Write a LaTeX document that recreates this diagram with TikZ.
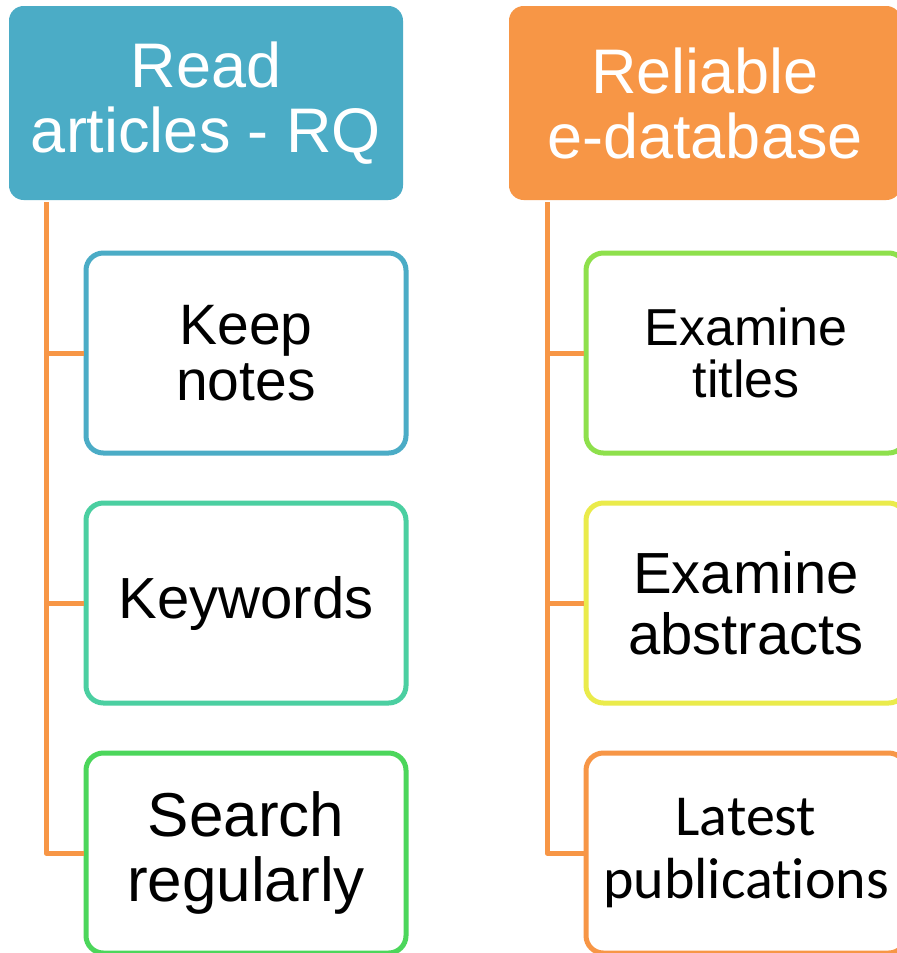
\documentclass[tikz,border=0pt]{standalone}
\usepackage{fontspec}
\setmainfont{Liberation Sans}
\newfontfamily\calibri{Carlito}
\definecolor{hblue}{HTML}{4BACC6}
\definecolor{horange}{HTML}{F79646}
\definecolor{cteal}{HTML}{4BCFA1}
\definecolor{cgreen}{HTML}{4CD65B}
\definecolor{clime}{HTML}{8EE04C}
\definecolor{cyellow}{HTML}{EAEB4B}
\tikzset{
  hdrbox/.style={rounded corners=11pt, inner sep=0pt, minimum width=295.5pt, minimum height=145.5pt, text=white, align=center, font=\fontsize{47.25}{48.75}\selectfont},
  childbox/.style={draw, line width=3.75pt, rounded corners=13pt, fill=white, inner sep=0pt, minimum width=240pt, minimum height=150pt, text=black, align=center},
  conn/.style={draw=horange, line width=3.75pt, line join=round}
}
\begin{document}
\begin{tikzpicture}[x=0.75pt,y=-0.75pt]
\useasboundingbox (0,0) rectangle (896,953);
\fill[white] (0,0) rectangle (896,953);
% headers
\node[hdrbox, fill=hblue] (hL) at (206,103) {Read\\articles - RQ};
\node[hdrbox, fill=horange, minimum width=294pt] (hR) at (705,103) {Reliable\\e-database};
% trunks
\coordinate (tL) at (46,202);
\coordinate (tR) at (547,202);
% left children
\node[childbox, draw=hblue, font=\fontsize{42.75}{42}\selectfont] (l1) at (246,353) {Keep\\notes};
\node[childbox, draw=cteal, font=\fontsize{43.5}{45}\selectfont] (l2) at (246,603) {Keywords};
\node[childbox, draw=cgreen, font=\fontsize{46.5}{48.75}\selectfont] (l3) at (246,853) {Search\\regularly};
% right children
\node[childbox, draw=clime, font=\fontsize{39}{39}\selectfont] (r1) at (746,353) {Examine\\titles};
\node[childbox, draw=cyellow, font=\fontsize{43.5}{45.75}\selectfont] (r2) at (746,603) {Examine\\abstracts};
\node[childbox, draw=horange, font=\calibri\fontsize{43.5}{47.25}\selectfont] (r3) at (746,853) {Latest\\publicat\kern0pt ions};
% connectors
\draw[conn] (tL) |- (l1.west);
\draw[conn] (tL) |- (l2.west);
\draw[conn] (tL) |- (l3.west);
\draw[conn] (tR) |- (r1.west);
\draw[conn] (tR) |- (r2.west);
\draw[conn] (tR) |- (r3.west);
\end{tikzpicture}
\end{document}
